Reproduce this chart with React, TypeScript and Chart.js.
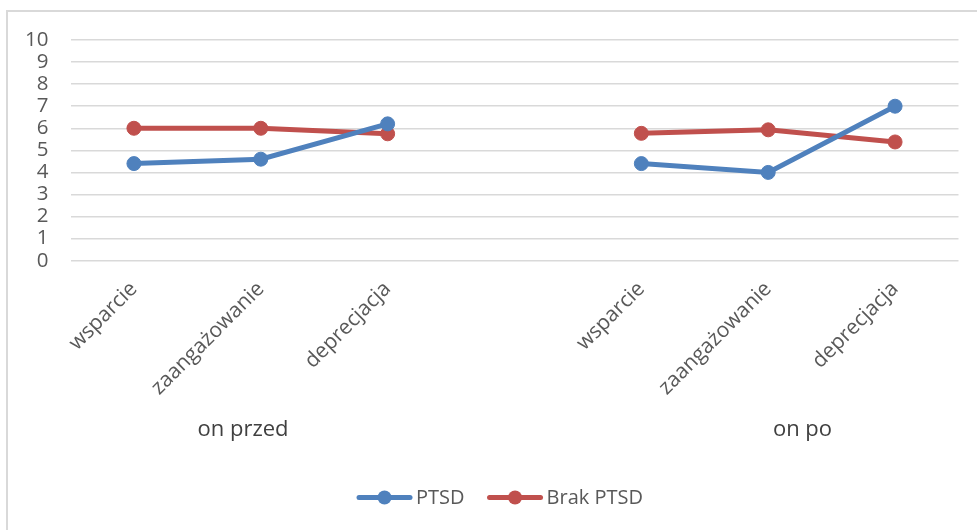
import React, { useEffect, useRef } from 'react';
import { Chart, registerables } from 'chart.js';

Chart.register(...registerables);

const categories = ['wsparcie', 'zaangażowanie', 'deprecjacja', '', 'wsparcie', 'zaangażowanie', 'deprecjacja'];
const ptsdValues = [4.4, 4.6, 6.2, null, 4.4, 4.0, 7.0];
const brakPtsdValues = [6.0, 6.0, 5.75, null, 5.77, 5.93, 5.38];
const groupLabels = ['on przed', 'on po'];
const groupCenters = [0.86, 5.27];
const seriesNames = ['PTSD', 'Brak PTSD'];
const seriesColors = ['#4f81bd', '#c0504d'];
const yMin = 0;
const yMax = 10;
const yStep = 1;

const FONT = '"Open Sans", sans-serif';

export default function App() {
  const ref = useRef<HTMLCanvasElement>(null);

  useEffect(() => {
    const canvas = ref.current;
    if (!canvas) return;

    const framePlugin = {
      id: 'frame',
      beforeDraw(chart: any) {
        const ctx = chart.ctx;
        ctx.save();
        ctx.strokeStyle = '#d9d9d9';
        ctx.lineWidth = 2;
        ctx.beginPath();
        ctx.moveTo(7, chart.height);
        ctx.lineTo(7, 11);
        ctx.lineTo(chart.width, 11);
        ctx.stroke();
        ctx.restore();
      },
      afterDraw(chart: any) {
        const ctx = chart.ctx;
        const xs = chart.scales.x;
        ctx.save();
        // group labels (second level of category axis)
        ctx.font = `22px ${FONT}`;
        ctx.fillStyle = '#404040';
        ctx.textAlign = 'center';
        ctx.textBaseline = 'alphabetic';
        groupLabels.forEach((t, i) => {
          ctx.fillText(t, xs.getPixelForValue(groupCenters[i]), 436);
        });

        // legend
        const ds = chart.data.datasets;
        ctx.font = `20px ${FONT}`;
        const lineW = 55;
        const gapText = 4;
        const gapItems = 23;
        const widths = ds.map((d: any) => lineW + gapText + ctx.measureText(d.label).width);
        const total = widths.reduce((a: number, b: number) => a + b, 0) + gapItems * (ds.length - 1);
        let x = 500 - total / 2;
        const cy = 497.5;
        ds.forEach((d: any, i: number) => {
          ctx.strokeStyle = d.borderColor;
          ctx.lineWidth = 5;
          ctx.lineCap = 'round';
          ctx.beginPath();
          ctx.moveTo(x + 2, cy);
          ctx.lineTo(x + lineW - 2, cy);
          ctx.stroke();
          ctx.fillStyle = d.borderColor;
          ctx.beginPath();
          ctx.arc(x + lineW / 2, cy, 7, 0, Math.PI * 2);
          ctx.fill();
          ctx.fillStyle = '#595959';
          ctx.textAlign = 'left';
          ctx.textBaseline = 'middle';
          ctx.fillText(d.label, x + lineW + gapText, cy + 1);
          x += widths[i] + gapItems;
        });
        ctx.restore();
      },
    };

    const chart = new Chart(canvas, {
      type: 'line',
      data: {
        labels: categories,
        datasets: [
          {
            label: seriesNames[0],
            data: ptsdValues,
            borderColor: seriesColors[0],
            backgroundColor: seriesColors[0],
            pointBackgroundColor: seriesColors[0],
            pointBorderColor: seriesColors[0],
            borderWidth: 5,
            pointRadius: 7,
            pointBorderWidth: 1,
            spanGaps: false,
            tension: 0,
          },
          {
            label: seriesNames[1],
            data: brakPtsdValues,
            borderColor: seriesColors[1],
            backgroundColor: seriesColors[1],
            pointBackgroundColor: seriesColors[1],
            pointBorderColor: seriesColors[1],
            borderWidth: 5,
            pointRadius: 7,
            pointBorderWidth: 1,
            spanGaps: false,
            tension: 0,
          },
        ],
      },
      options: {
        responsive: false,
        animation: false,
        devicePixelRatio: 1,
        layout: { padding: { top: 40, left: 0, right: 18.5, bottom: 0 } },
        plugins: {
          legend: { display: false },
          tooltip: { enabled: false },
          title: { display: false },
        },
        scales: {
          x: {
            type: 'category',
            offset: true,
            grid: { display: false, drawTicks: false },
            border: { display: false },
            ticks: {
              autoSkip: false,
              maxRotation: 45,
              minRotation: 45,
              padding: 16,
              color: '#595959',
              font: { family: FONT, size: 21 },
            },
            afterFit(scale: any) {
              scale.height = 269.3;
            },
          },
          y: {
            min: yMin,
            max: yMax,
            ticks: {
              stepSize: yStep,
              autoSkip: false,
              padding: 22,
              color: '#595959',
              font: { family: FONT, size: 20.5 },
            },
            grid: { color: '#d9d9d9', lineWidth: 1.5, drawTicks: false },
            border: { display: false },
            afterFit(scale: any) {
              scale.width = 70.5;
            },
          },
        },
      },
      plugins: [framePlugin],
    } as any);

    return () => chart.destroy();
  }, []);

  return (
    <div style={{ position: 'absolute', left: 0, top: 0, width: 977, height: 530, background: '#fff' }}>
      <canvas ref={ref} width={977} height={530} style={{ display: 'block' }} />
    </div>
  );
}
